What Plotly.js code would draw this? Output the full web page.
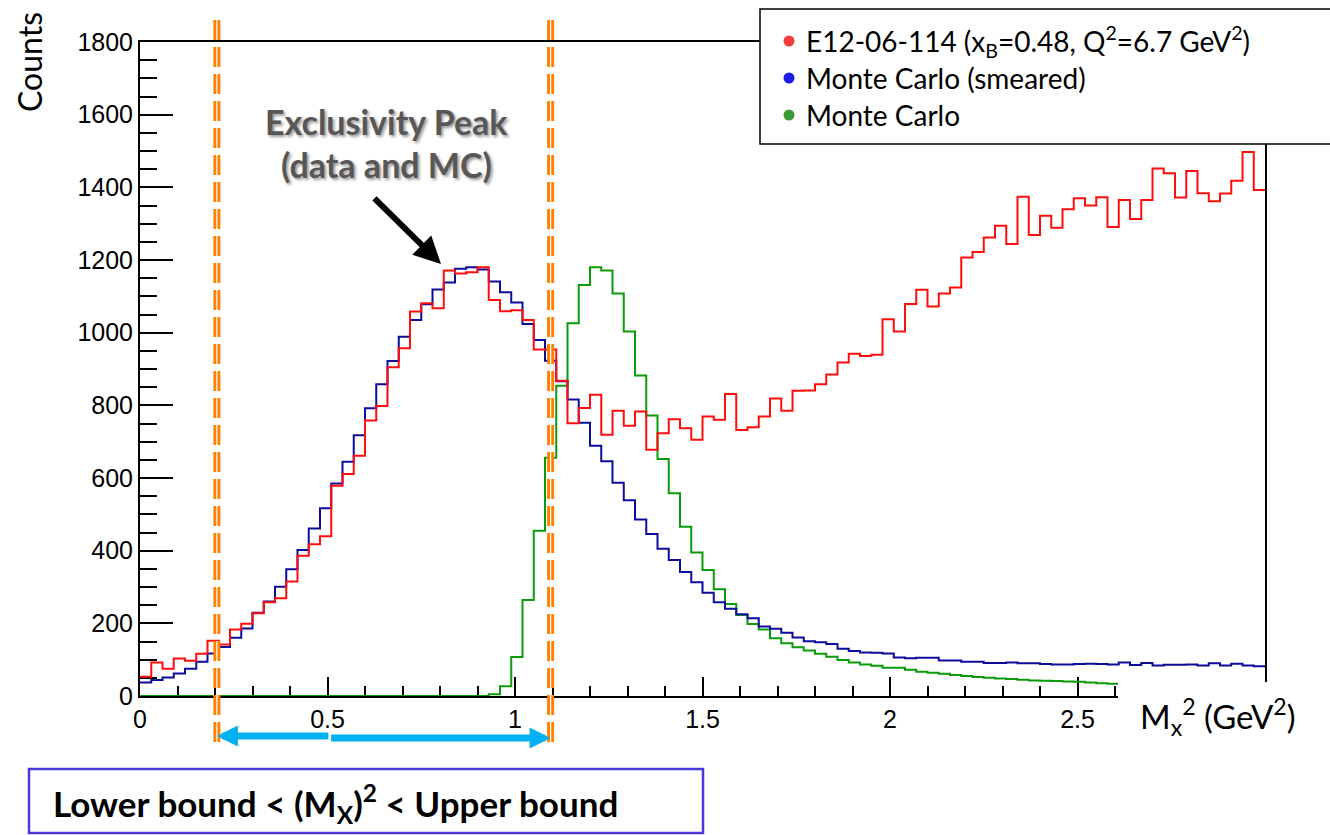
<!DOCTYPE html>
<html>
<head>
<meta charset="utf-8">
<script src="https://cdn.plot.ly/plotly-3.0.1.min.js"></script>
<style>html,body{margin:0;padding:0;background:#fff;}#chart{width:1330px;height:835px;}</style>
</head>
<body>
<div id="chart"></div>
<script>
// ---- data (histograms: 100 bins of width 0.03 GeV^2 from 0 to 3) ----
const binWidth = 0.03;
const dataCounts = [53,92,75,103,97,116,152,142,183,199,228,258,269,315,386,418,440,579,611,661,
  758,798,905,957,1058,1081,1067,1171,1163,1166,1180,1090,1059,1062,1035,954,954,868,751,793,
  829,719,785,744,783,678,723,762,737,705,769,760,831,732,740,769,819,785,840,841,
  858,885,918,942,936,939,1037,1003,1079,1118,1072,1108,1124,1207,1222,1262,1294,1244,1374,1269,
  1322,1289,1340,1370,1350,1373,1291,1365,1313,1365,1452,1439,1372,1445,1384,1362,1383,1418,1497,1393];
const mcSmearedCounts = [37,44,51,62,75,94,117,135,160,186,229,260,301,349,402,461,517,585,645,718,
  792,858,922,989,1035,1078,1119,1138,1176,1180,1174,1141,1111,1083,1024,980,923,866,816,752,
  689,646,587,539,486,446,405,374,341,313,284,258,240,225,214,191,185,174,161,151,
  148,143,130,124,120,119,117,106,104,105,105,98,98,94,94,91,91,92,90,90,
  88,87,87,88,89,88,87,92,85,91,84,86,86,87,84,90,84,89,84,82];
const mcCounts = [0,0,0,0,0,0,0,0,0,0,0,0,0,0,0,0,0,0,0,0,
  0,0,0,0,0,0,0,0,0,0,0,5,27,107,264,455,656,854,1026,1131,
  1180,1171,1108,1003,882,772,652,558,466,395,347,294,253,223,198,183,159,145,134,125,
  116,108,99,92,87,83,78,78,72,67,64,61,58,55,52,50,48,47,45,43,
  42,41,40,39,37,35,34];
const xTickVals = [0, 0.5, 1, 1.5, 2, 2.5];
const xTickText = ['0', '0.5', '1', '1.5', '2', '2.5'];
const lowerCut = 0.205;   // GeV^2
const upperCut = 1.095;   // GeV^2
const legendLabels = ['E12-06-114 (x<sub>B</sub>=0.48, Q<sup>2</sup>=6.7 GeV<sup>2</sup>)',
                      'Monte Carlo (smeared)', 'Monte Carlo'];
const legendColors = ['#f23b3b', '#1c1ce8', '#3a9a3a'];

// ---- helpers ----
function stepXY(counts) {
  const x = counts.map((_, i) => +(i * binWidth).toFixed(4));
  x.push(+(counts.length * binWidth).toFixed(4));
  const y = counts.slice();
  y.push(counts[counts.length - 1]);
  return {x, y};
}
function histTrace(counts, color) {
  const s = stepXY(counts);
  return {type: 'scatter', mode: 'lines', x: s.x, y: s.y,
          line: {shape: 'hv', color: color, width: 2}, hoverinfo: 'skip', cliponaxis: false};
}

const traces = [
  histTrace(mcCounts, '#0a9a0a'),
  histTrace(mcSmearedCounts, '#0c0c9c'),
  histTrace(dataCounts, '#ff0d0d')
];

// pixel helpers for paper coordinates (plot area 140..1265 x 42..696)
const L = 140, R = 65, T = 42, B = 139, W = 1330, H = 835;
const pw = W - L - R, ph = H - T - B;
const px = v => (v - L) / pw;
const py = v => (H - B - v) / ph;

const shapes = [];
// cut lines
[lowerCut, upperCut].forEach(c => {
  shapes.push({type: 'line', layer: 'above', xref: 'x', yref: 'paper', x0: c, x1: c, y0: py(20), y1: py(742),
               line: {color: '#ff8000', width: 7, dash: '20px,7px'}});
  shapes.push({type: 'line', layer: 'above', xref: 'x', yref: 'paper', x0: c, x1: c, y0: py(20), y1: py(742),
               line: {color: '#ffffff', width: 1.2, dash: '20px,7px'}});
});
// white box covering lower-right corner (x title area)
shapes.push({type: 'rect', layer: 'above', xref: 'paper', yref: 'paper', x0: px(1118), x1: px(1340), y0: py(745), y1: py(682),
             fillcolor: '#ffffff', line: {width: 0}});
// legend box
shapes.push({type: 'rect', layer: 'above', xref: 'paper', yref: 'paper', x0: px(760), x1: px(1345), y0: py(144), y1: py(9),
             fillcolor: '#ffffff', line: {color: '#000000', width: 1.5}});
// legend dots
legendColors.forEach((c, i) => {
  const cy = [41, 78, 115][i];
  shapes.push({type: 'circle', layer: 'above', xref: 'paper', yref: 'paper',
               x0: px(783.5), x1: px(794.5), y0: py(cy + 5.5), y1: py(cy - 5.5),
               fillcolor: c, line: {width: 0}});
});
// bound formula box
shapes.push({type: 'rect', layer: 'above', xref: 'paper', yref: 'paper', x0: px(29), x1: px(703), y0: py(833), y1: py(769),
             fillcolor: 'rgba(0,0,0,0)', line: {color: '#4a3ad8', width: 2.5}});

const annotations = [];
legendLabels.forEach((t, i) => {
  annotations.push({xref: 'paper', yref: 'paper', x: px(804), y: py([41, 78, 115][i]), xanchor: 'left', yanchor: 'middle',
                    text: t, showarrow: false, font: {family: 'Lato, sans-serif', size: 28, color: '#000'}});
});
// y title
annotations.push({xref: 'paper', yref: 'paper', x: px(30), y: py(62), text: 'Counts', textangle: -90, showarrow: false,
                  xanchor: 'center', yanchor: 'middle', font: {family: 'Lato, sans-serif', size: 32, color: '#000'}});
// x title
annotations.push({xref: 'paper', yref: 'paper', x: px(1138), y: py(716), xanchor: 'left', yanchor: 'middle',
                  text: 'M<sub>x</sub><sup>2</sup> (GeV<sup>2</sup>)', showarrow: false,
                  font: {family: 'Lato, sans-serif', size: 33, color: '#000'}});
// exclusivity text
annotations.push({xref: 'paper', yref: 'paper', x: px(386), y: py(122), xanchor: 'center', yanchor: 'middle',
                  text: '<b>Exclusivity Peak</b>', showarrow: false,
                  font: {family: 'Lato, sans-serif', size: 34, color: '#575757', shadow: '2px 2px 3px #9a9a9a'}});
annotations.push({xref: 'paper', yref: 'paper', x: px(386), y: py(164), xanchor: 'center', yanchor: 'middle',
                  text: '<b>(data and MC)</b>', showarrow: false,
                  font: {family: 'Lato, sans-serif', size: 34, color: '#575757', shadow: '2px 2px 3px #9a9a9a'}});
// black arrow toward peak
annotations.push({xref: 'paper', yref: 'paper', x: px(441), y: py(264), ax: -68, ay: -67, text: '',
                  showarrow: true, arrowhead: 2, arrowsize: 0.9, arrowwidth: 6, arrowcolor: '#000', standoff: 0});
// cyan double arrow between the cuts
annotations.push({xref: 'x', yref: 'paper', x: lowerCut, y: py(736), ax: 113, ay: 0, text: '',
                  showarrow: true, arrowhead: 2, arrowsize: 0.6, arrowwidth: 7, arrowcolor: '#00b0f0', standoff: 0});
annotations.push({xref: 'x', yref: 'paper', x: upperCut, y: py(738), ax: -221, ay: 0, text: '',
                  showarrow: true, arrowhead: 2, arrowsize: 0.6, arrowwidth: 7, arrowcolor: '#00b0f0', standoff: 0});
// formula
annotations.push({xref: 'paper', yref: 'paper', x: px(51), y: py(803), xanchor: 'left', yanchor: 'middle',
                  text: '<b>Lower bound &lt; (M<sub>X</sub>)<sup>2</sup> &lt; Upper bound</b>', showarrow: false,
                  font: {family: 'Lato, sans-serif', size: 35, color: '#000'}});

const tickFont = {family: '"Liberation Sans", Arial, sans-serif', size: 25, color: '#000'};
const layout = {
  width: W, height: H,
  margin: {l: L, r: R, t: T, b: B, pad: 0},
  paper_bgcolor: '#fff', plot_bgcolor: '#fff',
  showlegend: false,
  xaxis: {range: [0, 3], tickmode: 'array', tickvals: xTickVals, ticktext: xTickText,
          ticks: 'inside', ticklen: 19, tickwidth: 2, tickcolor: '#000',
          showline: true, linewidth: 2, linecolor: '#000', mirror: true, showgrid: false, zeroline: false,
          tickfont: tickFont, layer: 'below traces',
          minor: {dtick: 0.1, ticks: 'inside', ticklen: 10, tickwidth: 2, tickcolor: '#000', showgrid: false}},
  yaxis: {range: [0, 1800], tick0: 0, dtick: 200, ticks: 'inside', ticklen: 33, tickwidth: 2, tickcolor: '#000',
          showline: true, linewidth: 2, linecolor: '#000', mirror: true, showgrid: false, zeroline: false,
          tickfont: tickFont, layer: 'below traces',
          minor: {dtick: 50, ticks: 'inside', ticklen: 17, tickwidth: 2, tickcolor: '#000', showgrid: false}},
  shapes: shapes,
  annotations: annotations
};

Plotly.newPlot('chart', traces, layout, {displayModeBar: false, staticPlot: true});
</script>
</body>
</html>
